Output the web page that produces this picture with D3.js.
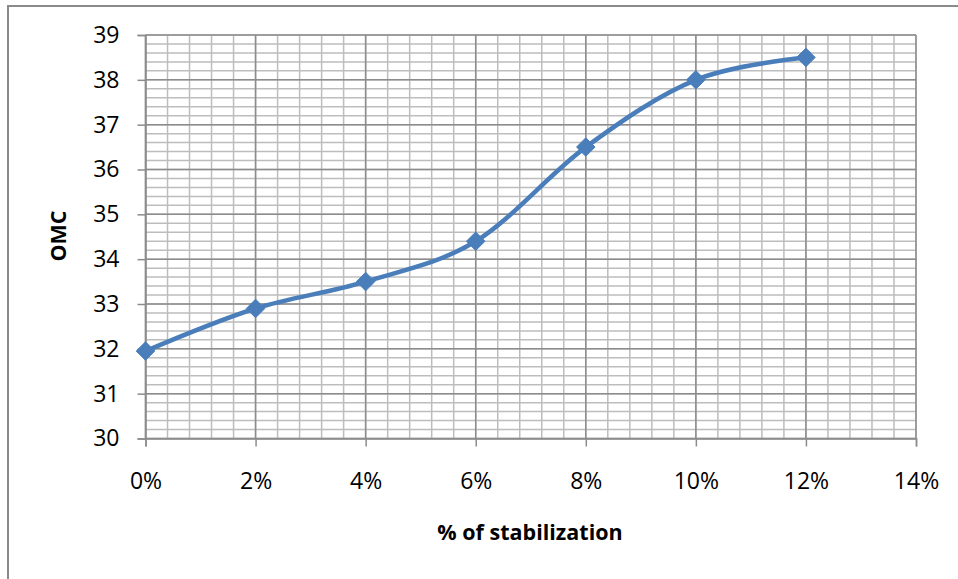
<!DOCTYPE html>
<html>
<head>
<meta charset="utf-8">
<script src="https://cdn.jsdelivr.net/npm/d3@7"></script>
<style>
  body { margin: 0; background: #fff; }
  text { font-family: "Open Sans", "Noto Sans", sans-serif; fill: #000; }
</style>
</head>
<body>
<script>
// chart values
const stabilization = [0, 2, 4, 6, 8, 10, 12];
const omc = [31.95, 32.9, 33.5, 34.4, 36.5, 38.0, 38.5];
const xTicks = [0, 2, 4, 6, 8, 10, 12, 14];
const yTicks = [30, 31, 32, 33, 34, 35, 36, 37, 38, 39];

const svgWidth = 958, svgHeight = 579;
const plotLeft = 145.5, plotRight = 916, plotTop = 35, plotBottom = 438.5;

const svg = d3.select("body")
    .append("svg")
    .attr("width", svgWidth)
    .attr("height", svgHeight);

// outer chart border
svg.append("rect")
    .attr("x", 8).attr("y", 6)
    .attr("width", 960).attr("height", 600)
    .attr("fill", "none")
    .attr("stroke", "#8a8a8a")
    .attr("stroke-width", 2);

const xScale = d3.scaleLinear().domain([0, 14]).range([plotLeft, plotRight]);
const yScale = d3.scaleLinear().domain([30, 39]).range([plotBottom, plotTop]);

// minor gridlines
const xMinor = d3.range(0, 14.001, 0.4);
const yMinor = d3.range(30, 39.001, 0.2);
svg.append("g").selectAll("line")
    .data(xMinor)
    .enter().append("line")
    .attr("x1", d => xScale(d)).attr("x2", d => xScale(d))
    .attr("y1", plotTop).attr("y2", plotBottom)
    .attr("stroke", "#bdbdbd").attr("stroke-width", 1.5);
svg.append("g").selectAll("line")
    .data(yMinor)
    .enter().append("line")
    .attr("x1", plotLeft).attr("x2", plotRight)
    .attr("y1", d => yScale(d)).attr("y2", d => yScale(d))
    .attr("stroke", "#bdbdbd").attr("stroke-width", 1.5);

// major gridlines
svg.append("g").selectAll("line")
    .data(xTicks)
    .enter().append("line")
    .attr("x1", d => xScale(d)).attr("x2", d => xScale(d))
    .attr("y1", plotTop).attr("y2", plotBottom)
    .attr("stroke", "#8c8c8c").attr("stroke-width", 1.5);
svg.append("g").selectAll("line")
    .data(yTicks)
    .enter().append("line")
    .attr("x1", plotLeft).attr("x2", plotRight)
    .attr("y1", d => yScale(d)).attr("y2", d => yScale(d))
    .attr("stroke", "#8c8c8c").attr("stroke-width", 1.5);

// axes
const xAxis = d3.axisBottom(xScale)
    .tickValues(xTicks)
    .tickSize(8)
    .tickPadding(26)
    .tickFormat(d => d + "%");
const yAxis = d3.axisLeft(yScale)
    .tickValues(yTicks)
    .tickSize(8)
    .tickPadding(18);

const gx = svg.append("g")
    .attr("transform", `translate(0,${plotBottom})`)
    .call(xAxis);
const gy = svg.append("g")
    .attr("transform", `translate(${plotLeft},0)`)
    .call(yAxis);

[gx, gy].forEach(g => {
    g.select(".domain").attr("stroke", "#8c8c8c").attr("stroke-width", 1.5);
    g.selectAll(".tick line").attr("stroke", "#8c8c8c").attr("stroke-width", 1.5);
    g.selectAll(".tick text")
        .style("font-family", '"Open Sans", "Noto Sans", sans-serif')
        .style("font-size", "23px")
        .attr("fill", "#000");
});

// axis titles
svg.append("text")
    .attr("x", 530).attr("y", 540)
    .attr("text-anchor", "middle")
    .style("font-size", "21.5px")
    .style("font-weight", "bold")
    .text("% of stabilization");

svg.append("text")
    .attr("transform", "translate(66,236) rotate(-90)")
    .attr("text-anchor", "middle")
    .style("font-size", "21.5px")
    .style("font-weight", "bold")
    .text("OMC");

// series
const points = stabilization.map((d, i) => [d, omc[i]]);
const line = d3.line()
    .x(d => xScale(d[0]))
    .y(d => yScale(d[1]))
    .curve(d3.curveCardinal.tension(0));

svg.append("path")
    .datum(points)
    .attr("d", line)
    .attr("fill", "none")
    .attr("stroke", "#4a7ebb")
    .attr("stroke-width", 4.5)
    .attr("stroke-linejoin", "round");

svg.append("g").selectAll("path")
    .data(points)
    .enter().append("path")
    .attr("transform", d => `translate(${xScale(d[0])},${yScale(d[1])})`)
    .attr("d", d3.symbol(d3.symbolDiamond2, 220))
    .attr("fill", "#4a7ebb")
    .attr("stroke", "#4a7ebb")
    .attr("stroke-width", 1);
</script>
</body>
</html>
